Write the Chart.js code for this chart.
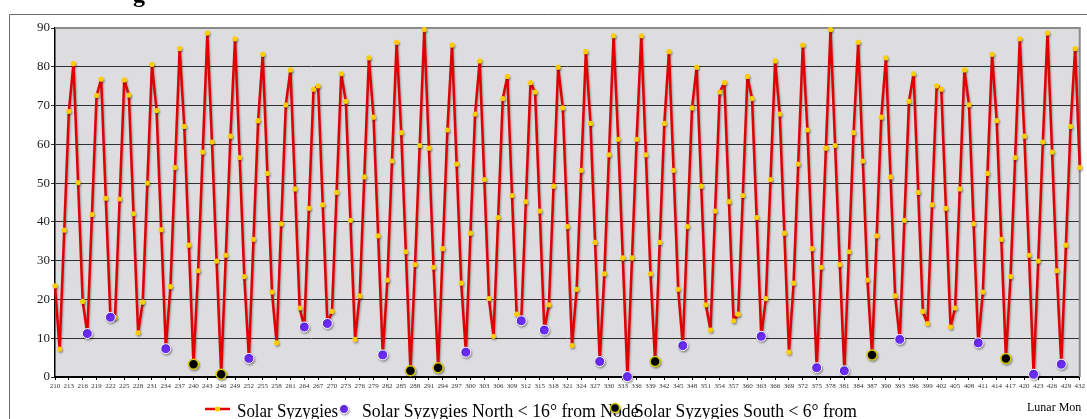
<!DOCTYPE html>
<html>
<head>
<meta charset="utf-8">
<script src="https://cdn.jsdelivr.net/npm/chart.js@4.4.1/dist/chart.umd.min.js"></script>
<style>
  html, body { margin: 0; padding: 0; background: #fff; }
  #wrap { position: relative; width: 1087px; height: 419px; }
</style>
</head>
<body>
<div id="wrap"><canvas id="chart_syzygy" width="1087" height="419"></canvas></div>
<script>
const months = [
    210, 211, 212, 213, 214, 215, 216, 217, 218, 219,
    220, 221, 222, 223, 224, 225, 226, 227, 228, 229,
    230, 231, 232, 233, 234, 235, 236, 237, 238, 239,
    240, 241, 242, 243, 244, 245, 246, 247, 248, 249,
    250, 251, 252, 253, 254, 255, 256, 257, 258, 259,
    260, 261, 262, 263, 264, 265, 266, 267, 268, 269,
    270, 271, 272, 273, 274, 275, 276, 277, 278, 279,
    280, 281, 282, 283, 284, 285, 286, 287, 288, 289,
    290, 291, 292, 293, 294, 295, 296, 297, 298, 299,
    300, 301, 302, 303, 304, 305, 306, 307, 308, 309,
    310, 311, 312, 313, 314, 315, 316, 317, 318, 319,
    320, 321, 322, 323, 324, 325, 326, 327, 328, 329,
    330, 331, 332, 333, 334, 335, 336, 337, 338, 339,
    340, 341, 342, 343, 344, 345, 346, 347, 348, 349,
    350, 351, 352, 353, 354, 355, 356, 357, 358, 359,
    360, 361, 362, 363, 364, 365, 366, 367, 368, 369,
    370, 371, 372, 373, 374, 375, 376, 377, 378, 379,
    380, 381, 382, 383, 384, 385, 386, 387, 388, 389,
    390, 391, 392, 393, 394, 395, 396, 397, 398, 399,
    400, 401, 402, 403, 404, 405, 406, 407, 408, 409,
    410, 411, 412, 413, 414, 415, 416, 417, 418, 419,
    420, 421, 422, 423, 424, 425, 426, 427, 428, 429,
    430, 431, 432
];

// degrees from node at each syzygy
const syzygies = [
    23.5, 7.2, 37.9, 68.5, 80.8, 50.1, 19.5, 11.2, 41.9, 72.6,
    76.8, 46.1, 15.4, 15.3, 45.9, 76.6, 72.7, 42.1, 11.4, 19.3,
    50.0, 80.6, 68.7, 38.0, 7.3, 23.3, 54.0, 84.7, 64.6, 34.0,
    3.3, 27.4, 58.0, 88.7, 60.6, 29.9, 0.7, 31.4, 62.1, 87.2,
    56.6, 25.9, 4.8, 35.5, 66.1, 83.2, 52.5, 21.9, 8.8, 39.5,
    70.2, 79.2, 48.5, 17.8, 12.9, 43.5, 74.2, 75.1, 44.4, 13.8,
    16.9, 47.6, 78.2, 71.1, 40.4, 9.7, 20.9, 51.6, 82.3, 67.0,
    36.4, 5.7, 25.0, 55.7, 86.3, 63.0, 32.3, 1.6, 29.0, 59.7,
    89.6, 59.0, 28.3, 2.4, 33.1, 63.7, 85.6, 54.9, 24.2, 6.4,
    37.1, 67.8, 81.5, 50.9, 20.2, 10.5, 41.1, 71.8, 77.5, 46.8,
    16.2, 14.5, 45.2, 75.9, 73.5, 42.8, 12.1, 18.6, 49.2, 79.9,
    69.4, 38.8, 8.1, 22.6, 53.3, 83.9, 65.4, 34.7, 4.0, 26.6,
    57.3, 88.0, 61.3, 30.7, 0.1, 30.7, 61.3, 88.0, 57.3, 26.6,
    4.0, 34.7, 65.4, 83.9, 53.3, 22.6, 8.1, 38.8, 69.4, 79.9,
    49.2, 18.6, 12.1, 42.8, 73.5, 75.9, 45.2, 14.5, 16.2, 46.8,
    77.5, 71.8, 41.1, 10.5, 20.2, 50.9, 81.5, 67.8, 37.1, 6.4,
    24.2, 54.9, 85.6, 63.7, 33.1, 2.4, 28.3, 59.0, 89.6, 59.7,
    29.0, 1.6, 32.3, 63.0, 86.3, 55.7, 25.0, 5.7, 36.4, 67.0,
    82.3, 51.6, 20.9, 9.7, 40.4, 71.1, 78.2, 47.6, 16.9, 13.8,
    44.4, 75.1, 74.2, 43.5, 12.9, 17.8, 48.5, 79.2, 70.2, 39.5,
    8.8, 21.9, 52.5, 83.2, 66.1, 35.5, 4.8, 25.9, 56.6, 87.2,
    62.1, 31.4, 0.7, 29.9, 60.6, 88.7, 58.0, 27.4, 3.3, 34.0,
    64.6, 84.7, 54.0
];

// months flagged in the two marker series
const northMonths = [217, 222, 234, 252, 264, 269, 281, 299, 311, 316, 328, 334, 346, 363, 375, 381, 393, 410, 422, 428];
const southMonths = [240, 246, 287, 293, 340, 387, 416];

const tickMonths = [
    210, 213, 216, 219, 222, 225, 228, 231, 234, 237, 240, 243, 246, 249, 252,
    255, 258, 261, 264, 267, 270, 273, 276, 279, 282, 285, 288, 291, 294, 297,
    300, 303, 306, 309, 312, 315, 318, 321, 324, 327, 330, 333, 336, 339, 342,
    345, 348, 351, 354, 357, 360, 363, 366, 369, 372, 375, 378, 381, 384, 387,
    390, 393, 396, 399, 402, 405, 408, 411, 414, 417, 420, 423, 426, 429, 432
];

const seriesNames = [
    'Solar Syzygies',
    'Solar Syzygies North < 16° from Node',
    'Solar Syzygies South < 6° from Node'
];
const axisTitle = 'Lunar Mon';
const titleText = 'g';

const RED = '#E00000';
const GOLD = '#FFCC00';
const PURPLE = '#6A2CF5';
const SERIF = '"Liberation Serif", "Times New Roman", serif';

const northData = months.map((m, i) => northMonths.includes(m) ? syzygies[i] : null);
const southData = months.map((m, i) => southMonths.includes(m) ? syzygies[i] : null);

function dot(ctx, x, y, r, fill, stroke, lw) {
    ctx.beginPath();
    ctx.arc(x, y, r, 0, Math.PI * 2);
    ctx.fillStyle = fill;
    ctx.fill();
    if (stroke) {
        ctx.lineWidth = lw;
        ctx.strokeStyle = stroke;
        ctx.stroke();
    }
}

function squeezedText(ctx, text, x, y, sx) {
    ctx.save();
    ctx.translate(x, y);
    ctx.scale(sx, 1);
    ctx.fillText(text, 0, 0);
    ctx.restore();
}

const plotBack = {
    id: 'plotBack',
    beforeDraw(chart) {
        const { ctx, chartArea: a } = chart;
        ctx.save();
        ctx.fillStyle = '#DDDDE0';
        ctx.fillRect(a.left, a.top, a.right - a.left, a.bottom - a.top);
        // outer chart frame
        ctx.strokeStyle = '#6a6a6a';
        ctx.lineWidth = 1;
        ctx.beginPath();
        ctx.moveTo(9.5, 419);
        ctx.lineTo(9.5, 14.5);
        ctx.lineTo(1087, 14.5);
        ctx.stroke();
        ctx.restore();
    },
    beforeDatasetsDraw(chart) {
        const { ctx, chartArea: a } = chart;
        ctx.save();
        ctx.strokeStyle = '#8a8a8a';
        ctx.lineWidth = 2;
        ctx.beginPath();
        ctx.moveTo(a.left, a.top);
        ctx.lineTo(a.right, a.top);
        ctx.lineTo(a.right, a.bottom);
        ctx.stroke();
        ctx.restore();
    }
};

const shadowPlugin = {
    id: 'markerShadow',
    beforeDatasetDraw(chart) {
        const c = chart.ctx;
        c.save();
        c.shadowColor = 'rgba(0,0,0,0.3)';
        c.shadowBlur = 2;
        c.shadowOffsetX = 1;
        c.shadowOffsetY = 1.5;
    },
    afterDatasetDraw(chart) {
        chart.ctx.restore();
    }
};

const decorations = {
    id: 'decorations',
    afterDraw(chart) {
        const ctx = chart.ctx;
        ctx.save();
        // cut-off title above the frame
        ctx.fillStyle = '#000';
        ctx.font = 'bold 24px ' + SERIF;
        ctx.textBaseline = 'alphabetic';
        ctx.fillText(titleText, 133, 2);

        // legend row (clipped like the original)
        ctx.save();
        ctx.beginPath();
        ctx.rect(0, 392, 859, 27);
        ctx.clip();
        const y = 409;
        ctx.strokeStyle = RED;
        ctx.lineWidth = 2.5;
        ctx.beginPath();
        ctx.moveTo(205, y);
        ctx.lineTo(230, y);
        ctx.stroke();
        dot(ctx, 217.5, y, 2.6, GOLD, null, 0);

        ctx.font = '19px ' + SERIF;
        ctx.fillStyle = '#000';
        const sx1 = 101 / ctx.measureText(seriesNames[0]).width;
        const sx2 = 251 / ctx.measureText('Solar Syzygies North < 16° from N').width;
        const sx3 = 223 / ctx.measureText('Solar Syzygies South < 6° from').width;
        squeezedText(ctx, seriesNames[0], 237, 416.5, sx1);
        ctx.shadowColor = 'rgba(0,0,0,0.3)';
        ctx.shadowOffsetX = 1;
        ctx.shadowOffsetY = 1.5;
        ctx.shadowBlur = 2;
        dot(ctx, 344, 409, 4.5, PURPLE, '#fff', 1);
        ctx.shadowColor = 'rgba(0,0,0,0)';
        ctx.fillStyle = '#000';
        squeezedText(ctx, seriesNames[1], 362, 416.5, sx2);
        ctx.shadowColor = 'rgba(0,0,0,0.3)';
        dot(ctx, 615, 408, 4.5, '#000', '#D8C800', 1.5);
        ctx.shadowColor = 'rgba(0,0,0,0)';
        ctx.fillStyle = '#000';
        squeezedText(ctx, seriesNames[2], 634, 416.5, sx3);
        ctx.restore();

        // axis title, cut at the right
        ctx.font = '12px ' + SERIF;
        ctx.fillStyle = '#000';
        ctx.fillText(axisTitle, 1027, 411);
        ctx.restore();
    }
};

const config = {
    type: 'line',
    data: {
        labels: months.map(String),
        datasets: [{
            label: seriesNames[0],
            data: syzygies,
            borderColor: RED,
            borderWidth: 2.5,
            borderJoinStyle: 'round',
            pointRadius: 2.6,
            pointBackgroundColor: GOLD,
            pointBorderWidth: 0,
            tension: 0,
            clip: false,
            order: 3
        }, {
            label: seriesNames[1],
            data: northData,
            showLine: false,
            pointRadius: 5,
            pointBackgroundColor: PURPLE,
            pointBorderColor: '#FFFFFF',
            pointBorderWidth: 1,
            clip: false,
            order: 1
        }, {
            label: seriesNames[2],
            data: southData,
            showLine: false,
            pointRadius: 5,
            pointBackgroundColor: '#000000',
            pointBorderColor: '#D8C800',
            pointBorderWidth: 1.5,
            clip: false,
            order: 2
        }]
    },
    options: {
        responsive: false,
        animation: false,
        devicePixelRatio: 1,
        layout: { padding: { left: 9, right: 4, top: 28, bottom: 0 } },
        plugins: {
            legend: { display: false },
            tooltip: { enabled: false }
        },
        scales: {
            x: {
                offset: false,
                grid: {
                    drawOnChartArea: false,
                    drawTicks: true,
                    tickLength: 3,
                    color: (c) => tickMonths.includes(months[c.index]) ? '#000' : 'rgba(0,0,0,0)'
                },
                border: { color: '#000', width: 2 },
                ticks: {
                    autoSkip: false,
                    maxRotation: 0,
                    minRotation: 0,
                    padding: 2,
                    color: '#333',
                    font: { family: SERIF, size: 7 },
                    callback: (v, i) => tickMonths.includes(months[i]) ? String(months[i]) : ''
                },
                afterFit: (s) => { s.height = 42; }
            },
            y: {
                min: 0,
                max: 90,
                grid: { color: '#303030', lineWidth: 1, tickLength: 4 },
                border: { color: '#000', width: 1.5 },
                ticks: {
                    stepSize: 10,
                    padding: 1,
                    color: '#222',
                    font: { family: SERIF, size: 13 }
                },
                afterFit: (s) => { s.width = 46; }
            }
        }
    },
    plugins: [plotBack, shadowPlugin, decorations]
};

const syzygyChart = new Chart(document.getElementById('chart_syzygy'), config);
</script>
</body>
</html>
